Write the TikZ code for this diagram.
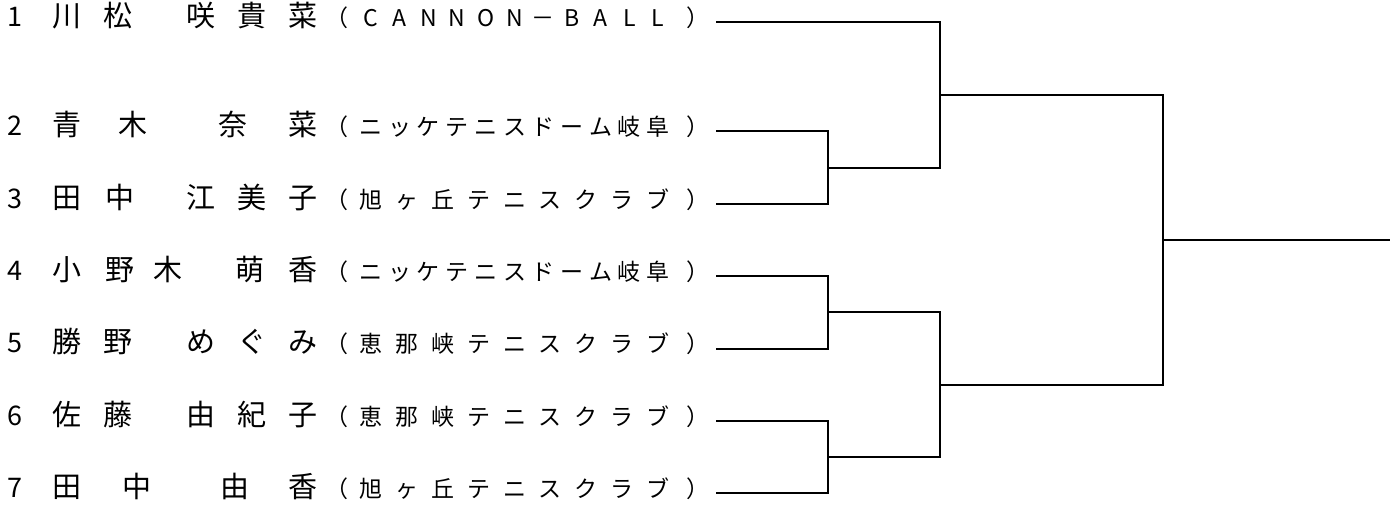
\documentclass[tikz,border=0pt]{standalone}
\usepackage{fontspec}
\setmainfont{Noto Sans CJK JP}
\usetikzlibrary{calc}

% club name spread evenly between the brackets: #1 row, #2 y, #3 count, #4 chars
\newcommand\clubrow[4]{%
  \node[club] (lp#1) at (337,#2) {（};
  \foreach \c [count=\i] in {#4}
    \node[club] (c#1-\i) at ({371+(\i-1)*287/(#3-1)},#2) {\c};
  \node[club] (rp#1) at (698,#2) {）};
}

\begin{document}
\begin{tikzpicture}[x=1pt,y=-1pt,
    bracket/.style={line width=2pt},
    seed/.style={font=\fontsize{27}{27}\selectfont,inner sep=0pt,text height=.94em,text depth=.06em},
    player/.style={font=\fontsize{29}{29}\selectfont,inner sep=0pt,text height=.94em,text depth=.06em},
    club/.style={font=\fontsize{23}{23}\selectfont,inner sep=0pt,text height=.94em,text depth=.06em}]
  \useasboundingbox (0,0) rectangle (1399,508);

  % players
  \node[seed] (n1) at (15,22) {1};
  \foreach \c/\x [count=\i] in {川/67,松/118,咲/201,貴/252,菜/303}
    \node[player] (p1-\i) at (\x,22) {\c};
  \clubrow{1}{22}{11}{C,A,N,N,O,N,－,B,A,L,L}

  \node[seed] (n2) at (15,131) {2};
  \foreach \c/\x [count=\i] in {青/67,木/133,奈/233,菜/303}
    \node[player] (p2-\i) at (\x,131) {\c};
  \clubrow{2}{131}{11}{ニ,ッ,ケ,テ,ニ,ス,ド,ー,ム,岐,阜}

  \node[seed] (n3) at (15,204) {3};
  \foreach \c/\x [count=\i] in {田/67,中/120,江/201,美/252,子/303}
    \node[player] (p3-\i) at (\x,204) {\c};
  \clubrow{3}{204}{9}{旭,ヶ,丘,テ,ニ,ス,ク,ラ,ブ}

  \node[seed] (n4) at (15,276) {4};
  \foreach \c/\x [count=\i] in {小/67,野/120,木/168,萌/250,香/303}
    \node[player] (p4-\i) at (\x,276) {\c};
  \clubrow{4}{276}{11}{ニ,ッ,ケ,テ,ニ,ス,ド,ー,ム,岐,阜}

  \node[seed] (n5) at (15,348.5) {5};
  \foreach \c/\x [count=\i] in {勝/67,野/118,め/201,ぐ/252,み/303}
    \node[player] (p5-\i) at (\x,348.5) {\c};
  \clubrow{5}{348.5}{9}{恵,那,峡,テ,ニ,ス,ク,ラ,ブ}

  \node[seed] (n6) at (15,421) {6};
  \foreach \c/\x [count=\i] in {佐/67,藤/118,由/201,紀/252,子/303}
    \node[player] (p6-\i) at (\x,421) {\c};
  \clubrow{6}{421}{9}{恵,那,峡,テ,ニ,ス,ク,ラ,ブ}

  \node[seed] (n7) at (15,493) {7};
  \foreach \c/\x [count=\i] in {田/67,中/137,由/235,香/303}
    \node[player] (p7-\i) at (\x,493) {\c};
  \clubrow{7}{493}{9}{旭,ヶ,丘,テ,ニ,ス,ク,ラ,ブ}

  % draw lines
  \foreach \i/\y in {1/22,2/131,3/204,4/276,5/348.5,6/421,7/493}
    \coordinate (e\i) at (716,\y);
  \coordinate (a1) at (828,167.5);
  \coordinate (a2) at (828,312.25);
  \coordinate (a3) at (828,457);
  \coordinate (b1) at (940,94.75);
  \coordinate (b2) at (940,384.6);
  \coordinate (c1) at (1163,239.7);
  \coordinate (w) at (1390,239.7);

  \draw[bracket] (e2) -| (a1) |- (e3);
  \draw[bracket] (e4) -| (a2) |- (e5);
  \draw[bracket] (e6) -| (a3) |- (e7);
  \draw[bracket] (e1) -| (b1) |- (a1);
  \draw[bracket] (a2) -| (b2) |- (a3);
  \draw[bracket] (b1) -| (c1) |- (b2);
  \draw[bracket] (c1) -- (w);
\end{tikzpicture}
\end{document}
